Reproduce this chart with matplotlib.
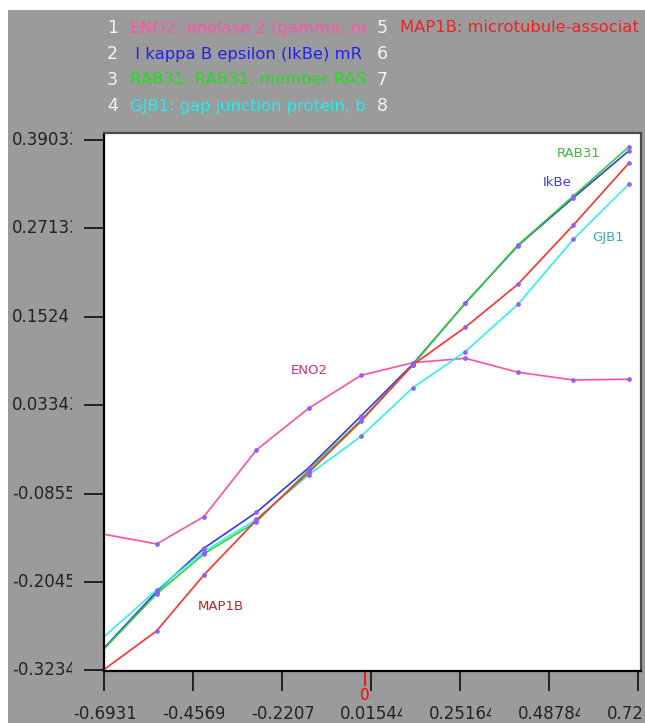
import matplotlib
matplotlib.use("Agg")
import matplotlib.pyplot as plt
from matplotlib.patches import Rectangle
from matplotlib.transforms import Bbox, blended_transform_factory

W, H = 645, 723

# log ratio on x, one profile per gene
x = [-0.6931, -0.5538, -0.4284, -0.2886, -0.1498, -0.0108, 0.1271, 0.2659, 0.4057, 0.5531, 0.7008]
eno2 = [-0.1402, -0.1532, -0.1165, -0.0267, 0.0294, 0.0737, 0.0907, 0.0966, 0.0778, 0.0674, 0.0684]
ikbe = [-0.2931, -0.2174, -0.1590, -0.1106, -0.0506, 0.0190, 0.0890, 0.1706, 0.2481, 0.3127, 0.3759]
rab31 = [-0.2944, -0.2205, -0.1667, -0.1232, -0.0536, 0.0136, 0.0876, 0.1710, 0.2490, 0.3150, 0.3813]
gjb1 = [-0.2779, -0.2151, -0.1636, -0.1200, -0.0600, -0.0083, 0.0571, 0.1055, 0.1693, 0.2567, 0.3311]
map1b = [-0.3220, -0.2702, -0.1949, -0.1209, -0.0570, 0.0120, 0.0880, 0.1383, 0.1962, 0.2759, 0.3594]

names = ["ENO2", "IkBe", "RAB31", "GJB1", "MAP1B"]
legend_text = ["ENO2: enolase 2 (gamma, ne",
               " I kappa B epsilon (IkBe) mR",
               "RAB31: RAB31, member RAS",
               "GJB1: gap junction protein, b",
               "MAP1B: microtubule-associat"]
line_colors = ["#ff4fa7", "#3535f5", "#35d335", "#2ff0f0", "#ff3030"]
legend_colors = ["#ff55a8", "#2222ee", "#22dd22", "#22eeee", "#ee2222"]
label_colors = ["#cc2f8a", "#3c3cdd", "#3cb93c", "#30b0b0", "#b02a2a"]
label_pos = [(-0.1488, 0.0799), (0.5099, 0.3329), (0.5683, 0.3715), (0.6452, 0.2594), (-0.3833, -0.2376)]

xticks = [-0.69315, -0.45695, -0.22075, 0.01545, 0.25164, 0.48784, 0.72404]
xtick_labels = ["-0.69315", "-0.45695", "-0.22075", "0.015445", "0.251645", "0.487843", "0.72"]
yticks = [-0.32342, -0.20447, -0.08552, 0.03343, 0.15238, 0.27133, 0.39028]
ytick_labels = ["-0.32342", "-0.20452", "-0.08552", "0.033434", "0.1524", "0.271334", "0.390334"]

fig = plt.figure(figsize=(W / 100, H / 100), dpi=100)
fig.patches.append(Rectangle((8 / W, 0), 1 - 8 / W, 1 - 10 / H, transform=fig.transFigure,
                             facecolor="#9b9b9b", edgecolor="none", zorder=-5))

ax = fig.add_axes([104 / W, 1 - 671 / H, (641 - 104) / W, (671 - 133) / H])
ax.set_facecolor("white")
ax.set_xlim(-0.6935, 0.7327)
ax.set_ylim(-0.3241, 0.3997)

series = [eno2, ikbe, rab31, gjb1, map1b]
for ys, col in zip(series, line_colors):
    ax.plot(x, ys, color=col, lw=1.2, zorder=2)
    ax.plot(x[1:], ys[1:], ls="none", marker="o", ms=3.4, mfc="#8a63f5", mec="none", zorder=3)

for name, col, (lx, ly) in zip(names, label_colors, label_pos):
    ax.text(lx, ly, name, color=col, fontsize=9.5, ha="center", va="center")

for side in ["left", "bottom"]:
    ax.spines[side].set_linewidth(1.6)
    ax.spines[side].set_color("black")
for side in ["top", "right"]:
    ax.spines[side].set_linewidth(1.6)
    ax.spines[side].set_color("#4a4a4a")

ax.set_xticks(xticks)
ax.set_yticks(yticks)
ax.tick_params(length=14.4, width=1.1, color="black", direction="out",
               labelbottom=False, labelleft=False)

fig.canvas.draw()


def clipped(px, py, s, color, x0, x1, size, ha="left"):
    t = fig.text(px / W, 1 - py / H, s, color=color, fontsize=size, ha=ha, va="center")
    t.set_clip_box(Bbox([[x0, 0], [x1, H]]))
    t.set_clip_on(True)
    return t


tick_color = "#222222"
for v, s in zip(xticks, xtick_labels):
    px = ax.transData.transform((v, 0))[0]
    clipped(px - 31, 714, s, tick_color, px - 31, min(px + 31, 643), 12)

for v, s in zip(yticks, ytick_labels):
    py = H - ax.transData.transform((0, v))[1]
    clipped(12, py, s, tick_color, 0, 72, 12)

# zero marker on the x axis
trans = blended_transform_factory(ax.transData, ax.transAxes)
ax.plot([0, 0], [-2 / 538, -14 / 538], color="red", lw=1.2, transform=trans, clip_on=False)
ax.text(0, -24 / 538, "0", color="red", fontsize=11, ha="center", va="center", transform=trans)

# gene list above the plot
rows = [28, 54, 80, 106]
for i in range(8):
    col, row = divmod(i, 4)
    nx = 112.5 if col == 0 else 382
    fig.text(nx / W, 1 - rows[row] / H, str(i + 1), color="#f4f4f4", fontsize=12.5,
             ha="center", va="center")
    if i < len(legend_text):
        tx0 = 130 if col == 0 else 400
        tx1 = 367 if col == 0 else 643
        clipped(tx0, rows[row], legend_text[i], legend_colors[i], tx0, tx1, 11.8)

fig.savefig("out.png", dpi=100)
